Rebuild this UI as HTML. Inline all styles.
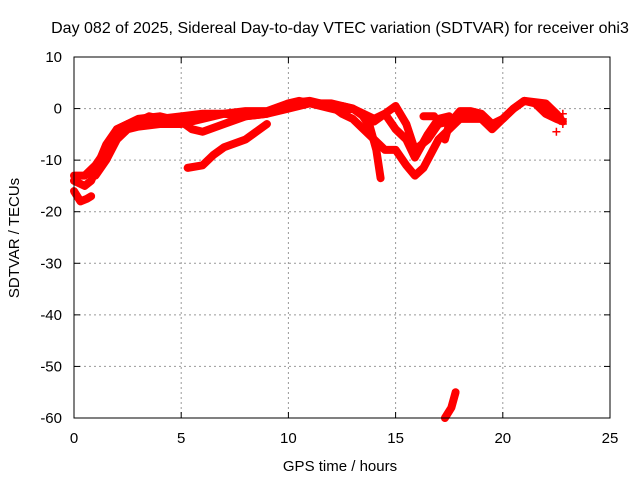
<!DOCTYPE html>
<html><head><meta charset="utf-8"><style>
body{margin:0;background:#fff}
svg{display:block;font-family:"Liberation Sans",sans-serif}
</style></head><body>
<svg id="chart" width="640" height="480">
<text x="340" y="33" font-size="16" text-anchor="middle">Day 082 of 2025, Sidereal Day-to-day VTEC variation (SDTVAR) for receiver ohi3</text>
<text x="340" y="471" font-size="15" text-anchor="middle">GPS time / hours</text>
<text transform="translate(19,238) rotate(-90)" font-size="15" text-anchor="middle">SDTVAR / TECUs</text>
<g id="grid"></g><g id="ticks"></g><g id="series"></g>
<rect x="74" y="57" width="536" height="361" fill="none" stroke="#000" stroke-width="1"/>
</svg>
<script>
const xTicks=[0,5,10,15,20,25];
const yTicks=[10,0,-10,-20,-30,-40,-50,-60];
const track1=[[0,-13],[0.5,-13],[1,-11],[1.5,-8],[2,-4],[2.5,-3],[3,-2.5],[3.5,-1.5],[4,-2],[5,-1.5],[6,-1],[7,-1],[8,-0.5],[9,-0.5],[10,1],[10.5,1.5],[11,1],[12,0],[12.5,-0.5],[13,0],[13.4,-1],[13.8,-3.5],[14.1,-8],[14.3,-13.5]];
const track2=[[0,-14],[0.5,-15],[0.8,-14],[1,-12],[1.5,-7],[2,-4],[2.5,-3],[3,-2],[4,-1.5],[5,-2.5],[5.5,-4],[6,-4.5],[7,-3],[8,-1.5],[9,-1],[9.5,0],[10,1],[11,1.5],[12,0.5],[12.5,-1],[13,-2],[13.5,-4],[14,-6],[14.5,-8],[15,-8],[15.5,-11],[15.9,-13],[16.3,-11.5],[17,-6],[17.5,-4],[18,-2],[19,-2],[19.5,-4],[20,-2],[20.5,0],[21,1.5],[21.5,1],[22,-1],[22.5,-2],[22.8,-2.5]];
const track3=[[0,-16],[0.3,-18],[0.6,-17.5],[0.8,-17]];
const track4=[[5.3,-11.5],[6,-11],[6.5,-9],[7,-7.5],[8,-6],[8.5,-4.5],[9,-3]];
const track5=[[1,-13],[1.5,-10],[2,-6],[2.5,-4],[3,-3.5],[4,-3],[5,-3],[6,-2],[7,-1],[8,-1.5],[9,-1],[10,0],[11,1],[12,1],[13,0],[13.5,-1.5],[14,-2.5],[14.5,-1],[15,0.5],[15.5,-3],[15.9,-8],[16.5,-6],[17,-3],[17.5,-2.5],[18,-1],[18.5,-1],[19,-2],[19.5,-3]];
const track6=[[12.5,0.5],[13,0],[13.5,-1],[14,-2],[14.5,-1],[15,-4],[15.5,-6],[15.9,-9.5],[16.5,-5],[17,-2],[17.5,-1.5]];
const track7=[[17.3,-6],[17.5,-3],[18,-0.5],[18.5,-0.5],[19,-1],[19.5,-3],[20,-2],[20.5,0],[21,1.5],[22,1],[22.5,-1],[22.7,-2]];
const track8=[[16.3,-1.5],[16.8,-1.5]];
const track9=[[17.3,-60],[17.6,-58],[17.8,-55]];
const strays=[[22.8,-1],[22.8,-2],[22.8,-3],[22.5,-4.5]];
const tracks=[track1,track2,track3,track4,track5,track6,track7,track8,track9];
const NS='http://www.w3.org/2000/svg';
const X=h=>74+h*536/25, Y=v=>57+(10-v)*361/70;
function mk(tag,parent,attrs){const e=document.createElementNS(NS,tag);for(const k in attrs)e.setAttribute(k,attrs[k]);parent.appendChild(e);return e;}
const grid=document.getElementById('grid'),ticks=document.getElementById('ticks'),ser=document.getElementById('series');
xTicks.forEach(t=>{const x=X(t);
 if(t>0&&t<25){const l=mk('line',grid,{x1:x,x2:x,y1:57,y2:418,stroke:'#999','stroke-dasharray':'2,3'});
 
 }
 mk('line',ticks,{x1:x,x2:x,y1:418,y2:412,stroke:'#000'});mk('line',ticks,{x1:x,x2:x,y1:57,y2:63,stroke:'#000'});
 const tx=mk('text',ticks,{x:x,y:443,'font-size':15,'text-anchor':'middle'});tx.textContent=t;
 
 });
yTicks.forEach(t=>{const y=Y(t);
 if(t<10&&t>-60){const l=mk('line',grid,{x1:74,x2:610,y1:y,y2:y,stroke:'#999','stroke-dasharray':'2,3'});
 
 }
 mk('line',ticks,{x1:74,x2:80,y1:y,y2:y,stroke:'#000'});mk('line',ticks,{x1:610,x2:604,y1:y,y2:y,stroke:'#000'});
 const tx=mk('text',ticks,{x:62,y:y+5,'font-size':15,'text-anchor':'end'});tx.textContent=t;
 
 });
tracks.forEach(tr=>{const p=mk('polyline',ser,{points:tr.map(d=>X(d[0])+','+Y(d[1])).join(' '),fill:'none',stroke:'#f00','stroke-width':8,'stroke-linejoin':'round','stroke-linecap':'round'});
 
 });
strays.forEach(d=>{const x=X(d[0]),y=Y(d[1]);const p=mk('path',ser,{d:`M${x-4},${y}h8M${x},${y-4}v8`,stroke:'#f00','stroke-width':1.5});
 
 });
</script>
</body></html>
